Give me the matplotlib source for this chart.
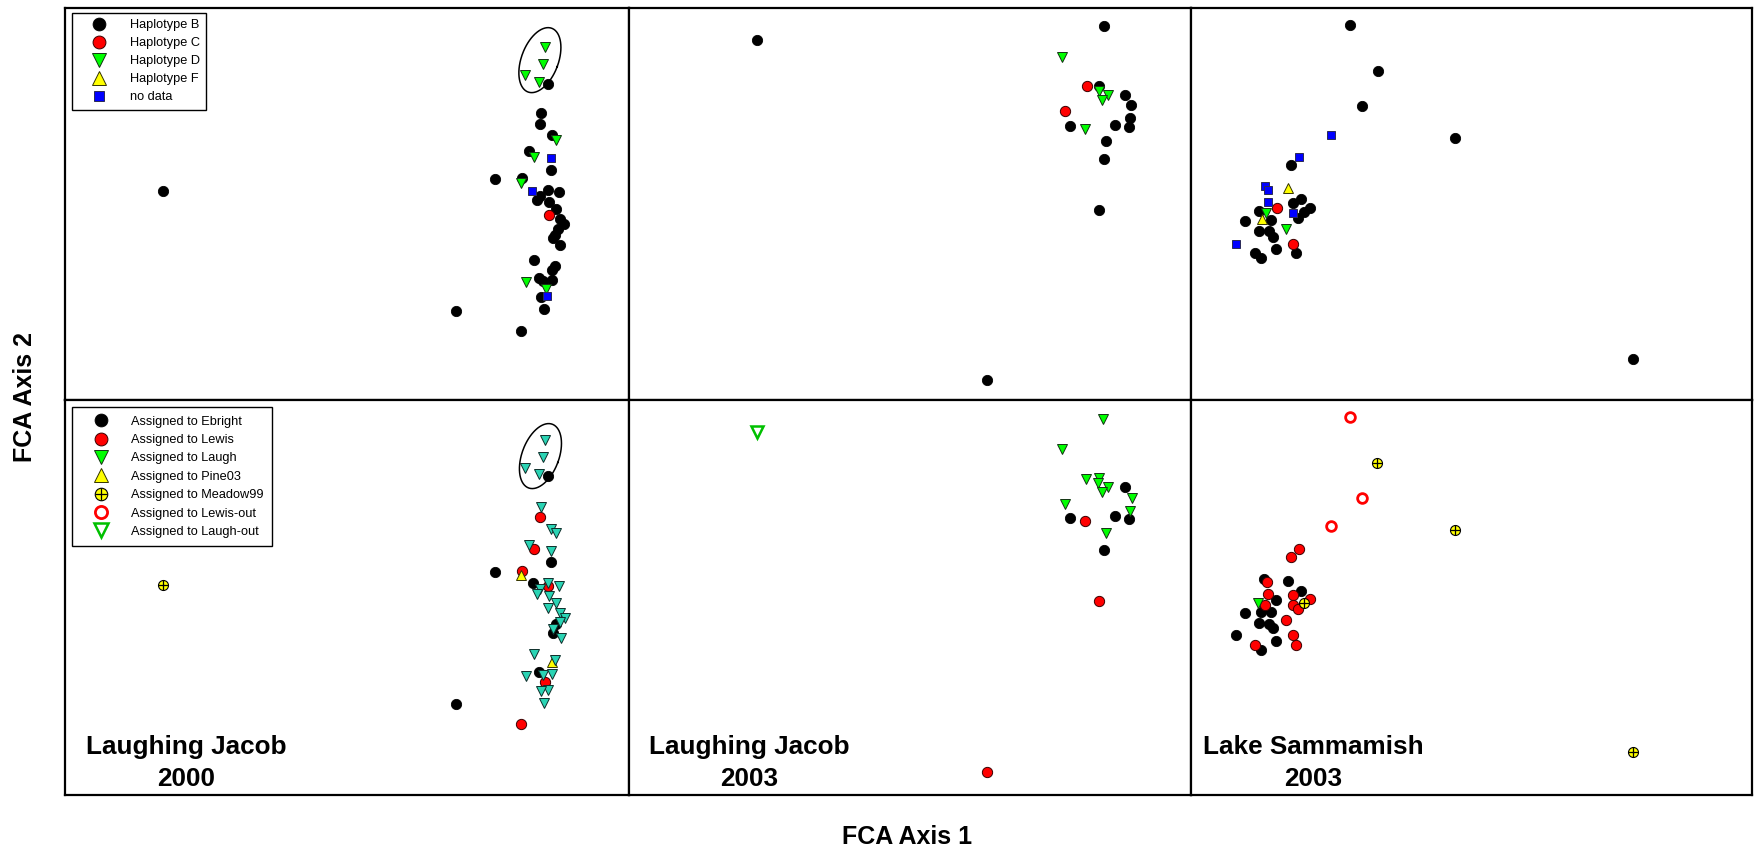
import matplotlib.pyplot as plt
from matplotlib.lines import Line2D
import numpy as np

plt.rcParams['font.family'] = ['Liberation Sans', 'DejaVu Sans']

# FCA scores (arbitrary units, 0-100 per column)

# Laughing Jacob 2000 - haplotypes
lj00_hapB_x = [17.3, 85.7, 84.4, 84.2, 86.3, 82.3, 86.1, 76.3, 81.1, 85.7, 87.6, 84.2, 83.6, 85.9, 87.1, 87.8,
               88.5, 87.4, 86.9, 86.5, 87.8, 83.2, 86.9, 86.4, 84.1, 86.4, 84.8, 84.4, 84.9, 69.3, 80.9]
lj00_hapB_y = [53.2, 80.7, 73.1, 70.4, 67.6, 63.5, 58.7, 56.3, 56.7, 53.5, 53.0, 52.0, 51.1, 50.5, 48.8, 46.3,
               44.9, 43.5, 42.2, 41.2, 39.6, 35.8, 34.1, 33.2, 31.1, 30.6, 30.3, 26.2, 23.2, 22.7, 17.6]
lj00_hapC_x = [85.9]
lj00_hapC_y = [47.2]
lj00_hapD_x = [85.1, 84.7, 81.5, 84.0, 87.1, 83.2, 80.8, 81.8, 85.2]
lj00_hapD_y = [90.1, 85.7, 83.0, 81.2, 66.4, 62.1, 55.4, 30.0, 28.4]
lj00_nodata_x = [86.1, 82.8, 85.5]
lj00_nodata_y = [61.8, 53.4, 26.6]

# Laughing Jacob 2000 - assignments
lj00_ebright_x = [85.7, 86.1, 76.3, 82.9, 87.1, 86.5, 84.1, 69.3]
lj00_ebright_y = [80.7, 58.9, 56.4, 53.6, 43.4, 40.9, 31.1, 23.1]
lj00_lewis_x = [84.2, 83.2, 81.1, 85.6, 85.1, 80.9]
lj00_lewis_y = [70.4, 62.3, 56.6, 53.0, 28.6, 17.9]
lj00_laugh_x = [85.1, 84.7, 81.5, 84.0, 84.4, 86.2, 87.1, 82.2, 86.1, 85.7, 87.6, 84.2, 83.6, 85.9, 87.1,
                85.7, 87.8, 88.6, 87.8, 86.5, 88.0, 83.2, 86.9, 81.7, 84.8, 86.4, 85.6, 84.4, 84.9]
lj00_laugh_y = [90.0, 85.5, 82.9, 81.2, 73.0, 67.4, 66.4, 63.4, 61.7, 53.6, 53.0, 52.1, 51.0, 50.4, 48.7,
                47.3, 46.2, 44.9, 43.8, 41.9, 39.7, 35.8, 34.3, 30.1, 30.3, 30.7, 26.7, 26.3, 23.3]
lj00_pine_x = [80.8, 86.4]
lj00_pine_y = [55.8, 33.7]
lj00_meadow_x = [17.3]
lj00_meadow_y = [53.2]

# Laughing Jacob 2003 - haplotypes
lj03_hapB_x = [22.7, 84.5, 83.7, 88.2, 89.4, 89.2, 88.9, 86.5, 78.5, 84.8, 84.6, 83.7, 63.7]
lj03_hapB_y = [91.9, 95.3, 80.1, 77.7, 75.2, 71.9, 69.7, 70.2, 69.9, 66.1, 61.6, 48.5, 5.1]
lj03_hapC_x = [81.5, 77.6]
lj03_hapC_y = [80.1, 73.7]
lj03_hapD_x = [77.0, 83.6, 85.3, 84.1, 81.2]
lj03_hapD_y = [87.4, 78.9, 77.8, 76.6, 69.1]

# Laughing Jacob 2003 - assignments
lj03_ebright_x = [88.2, 78.5, 86.5, 88.9, 84.6]
lj03_ebright_y = [78.1, 70.2, 70.6, 69.9, 61.9]
lj03_lewis_x = [81.2, 83.7, 63.7]
lj03_lewis_y = [69.4, 49.0, 5.8]
lj03_laugh_x = [84.4, 77.0, 81.4, 83.7, 83.5, 85.3, 84.1, 89.5, 77.6, 89.1, 84.8]
lj03_laugh_y = [95.2, 87.5, 80.1, 80.3, 79.1, 78.1, 76.7, 75.3, 73.7, 72.0, 66.3]
lj03_laughout_x = [22.7]
lj03_laughout_y = [91.8]

# Lake Sammamish 2003 - haplotypes
ls03_hapB_x = [28.4, 33.3, 30.5, 47.1, 17.8, 78.7, 18.1, 19.6, 21.2, 20.1, 19.0, 12.1, 9.6, 14.3, 12.2,
               13.9, 14.6, 15.2, 11.4, 12.5, 18.8]
ls03_hapB_y = [95.7, 83.9, 75.0, 66.8, 60.0, 10.4, 50.3, 51.4, 49.1, 48.0, 46.5, 48.2, 45.6, 46.0, 43.2,
               43.1, 41.7, 38.6, 37.5, 36.2, 37.5]
ls03_hapC_x = [15.3, 18.1]
ls03_hapC_y = [48.9, 39.9]
ls03_hapD_x = [13.3, 16.9]
ls03_hapD_y = [47.6, 43.6]
ls03_hapF_x = [17.3, 12.6]
ls03_hapF_y = [54.0, 46.2]
ls03_nodata_x = [25.0, 19.3, 13.2, 13.7, 13.7, 18.2, 8.1]
ls03_nodata_y = [67.7, 62.1, 54.5, 53.5, 50.5, 47.7, 39.9]

# Lake Sammamish 2003 - assignments
ls03_ebright_x = [13.1, 17.3, 19.6, 15.2, 9.6, 12.5, 14.3, 12.1, 13.9, 14.6, 8.1, 15.1, 12.5]
ls03_ebright_y = [54.8, 54.2, 51.7, 49.3, 46.0, 46.4, 46.4, 43.6, 43.4, 42.2, 40.4, 39.0, 36.7]
ls03_lewis_x = [19.3, 17.8, 13.6, 13.7, 18.1, 21.2, 18.1, 19.0, 13.2, 16.9, 18.1, 18.7, 11.4]
ls03_lewis_y = [62.3, 60.3, 53.8, 50.9, 50.7, 49.5, 48.1, 47.2, 48.1, 44.2, 40.4, 38.0, 38.0]
ls03_laugh_x = [11.9]
ls03_laugh_y = [48.6]
ls03_meadow_x = [33.2, 47.1, 78.7, 20.1]
ls03_meadow_y = [84.1, 67.0, 11.0, 48.6]
ls03_lewisout_x = [28.3, 30.4, 24.9]
ls03_lewisout_y = [95.7, 75.3, 68.0]

# outlier groups circled in the Laughing Jacob 2000 panels (centre in data units)
ring_top = (84.2, 86.7)
ring_bottom = (84.3, 85.8)

hap_labels = ['Haplotype B', 'Haplotype C', 'Haplotype D', 'Haplotype F', 'no data']
assign_labels = ['Assigned to Ebright', 'Assigned to Lewis', 'Assigned to Laugh', 'Assigned to Pine03',
                 'Assigned to Meadow99', 'Assigned to Lewis-out', 'Assigned to Laugh-out']

# marker styles
black = dict(marker='o', ms=7.4, mfc='black', mec='black', mew=0.6)
red = dict(marker='o', ms=7.4, mfc='#ff0000', mec='#3a0000', mew=0.7)
green = dict(marker='v', ms=7.8, mfc='#00ff00', mec='#143214', mew=0.7)
turq = dict(marker='v', ms=7.8, mfc='#2ad4b4', mec='#0e2e2a', mew=0.7)
yellow = dict(marker='^', ms=7.8, mfc='#ffff00', mec='#333300', mew=0.7)
blue = dict(marker='s', ms=6.2, mfc='#0000ff', mec='#2a2a55', mew=0.7)
meadow_c = dict(marker='o', ms=7.2, mfc='#ffff00', mec='black', mew=0.8)
meadow_p = dict(marker='+', ms=7.2, mfc='none', mec='black', mew=0.9)
lewis_out = dict(marker='o', ms=7.0, mfc='white', mec='#ff0000', mew=2.0)
laugh_out = dict(marker='v', ms=8.0, mfc='white', mec='#00c000', mew=1.8)


def pts(ax, x, y, style):
    ax.plot(x, y, ls='none', **style)


def meadow(ax, x, y):
    pts(ax, x, y, meadow_c)
    pts(ax, x, y, meadow_p)


def ring(ax, centre):
    # tilted ellipse, sized in pixels so it keeps its shape
    t = np.linspace(0, 2 * np.pi, 200)
    a, b, tilt = 34.0, 18.5, np.radians(20.5)
    dx = b * np.cos(t) * np.cos(tilt) + a * np.sin(t) * np.sin(tilt)
    dy = -b * np.cos(t) * np.sin(tilt) + a * np.sin(t) * np.cos(tilt)
    w, h = ax.bbox.width, ax.bbox.height
    cx, cy = ax.transLimits.transform(centre)
    ax.plot(cx + dx / w, cy + dy / h, color='black', lw=1.1, transform=ax.transAxes)


def handle(style):
    return Line2D([], [], ls='none', **style)


fig = plt.figure(figsize=(17.54, 8.52), dpi=100)
lefts = [65, 629, 1191]
widths = [564, 562, 561]
rows = [(8, 392), (400, 395)]
axes = []
for top, hgt in rows:
    row = []
    for l, wd in zip(lefts, widths):
        ax = fig.add_axes([l / 1754, 1 - (top + hgt) / 852, wd / 1754, hgt / 852])
        ax.set_xlim(0, 100)
        ax.set_ylim(0, 100)
        ax.set_xticks([])
        ax.set_yticks([])
        for s in ax.spines.values():
            s.set_linewidth(1.6)
            s.set_color('black')
        row.append(ax)
    axes.append(row)

leg_kw = dict(loc='upper left', borderaxespad=0, fontsize=9.2, fancybox=False, edgecolor='black',
              framealpha=1, borderpad=0.5, handlelength=3.2, handletextpad=0.8, markerscale=1.25)

# top row: haplotypes
ax = axes[0][0]
pts(ax, lj00_hapB_x, lj00_hapB_y, black)
pts(ax, lj00_hapC_x, lj00_hapC_y, red)
pts(ax, lj00_hapD_x, lj00_hapD_y, green)
pts(ax, lj00_nodata_x, lj00_nodata_y, blue)
ring(ax, ring_top)
leg = ax.legend([handle(black), handle(red), handle(green), handle(yellow), handle(blue)], hap_labels,
                bbox_to_anchor=(7 / 564, 1 - 4.7 / 392), labelspacing=0.47, **leg_kw)
leg.get_frame().set_linewidth(1.0)

ax = axes[0][1]
pts(ax, lj03_hapB_x, lj03_hapB_y, black)
pts(ax, lj03_hapC_x, lj03_hapC_y, red)
pts(ax, lj03_hapD_x, lj03_hapD_y, green)

ax = axes[0][2]
pts(ax, ls03_hapB_x, ls03_hapB_y, black)
pts(ax, ls03_hapC_x, ls03_hapC_y, red)
pts(ax, ls03_nodata_x, ls03_nodata_y, blue)
pts(ax, ls03_hapF_x, ls03_hapF_y, yellow)
pts(ax, ls03_hapD_x, ls03_hapD_y, green)

# bottom row: assignments
ax = axes[1][0]
pts(ax, lj00_ebright_x, lj00_ebright_y, black)
pts(ax, lj00_lewis_x, lj00_lewis_y, red)
pts(ax, lj00_pine_x, lj00_pine_y, yellow)
pts(ax, lj00_laugh_x, lj00_laugh_y, turq)
meadow(ax, lj00_meadow_x, lj00_meadow_y)
ring(ax, ring_bottom)
meadow_h = (handle(meadow_c), handle(meadow_p))
leg = ax.legend([handle(black), handle(red), handle(green), handle(yellow), meadow_h,
                 handle(lewis_out), handle(laugh_out)], assign_labels,
                bbox_to_anchor=(7 / 564, 1 - 7.3 / 395), labelspacing=0.5, borderpad=0.65,
                **{k: v for k, v in leg_kw.items() if k != 'borderpad'})
leg.get_frame().set_linewidth(1.0)

ax = axes[1][1]
pts(ax, lj03_ebright_x, lj03_ebright_y, black)
pts(ax, lj03_lewis_x, lj03_lewis_y, red)
pts(ax, lj03_laugh_x, lj03_laugh_y, green)
pts(ax, lj03_laughout_x, lj03_laughout_y, laugh_out)

ax = axes[1][2]
pts(ax, ls03_ebright_x, ls03_ebright_y, black)
pts(ax, ls03_lewis_x, ls03_lewis_y, red)
pts(ax, ls03_laugh_x, ls03_laugh_y, green)
meadow(ax, ls03_meadow_x, ls03_meadow_y)
pts(ax, ls03_lewisout_x, ls03_lewisout_y, lewis_out)

# site / year labels
site_names = ['Laughing Jacob\n2000', 'Laughing Jacob\n2003', 'Lake Sammamish\n2003']
site_xpos = [0.2154, 0.2144, 0.218]
for ax, name, xp in zip(axes[1], site_names, site_xpos):
    ax.text(xp, 0.0228, name, transform=ax.transAxes, ha='center', va='baseline',
            multialignment='center', fontsize=18.8, fontweight='bold', linespacing=1.4)

fig.text(25 / 1754, 1 - 397 / 852, 'FCA Axis 2', rotation=90, ha='center', va='center',
         fontsize=18, fontweight='bold')
fig.text(907 / 1754, 1 - 837 / 852, 'FCA Axis 1', ha='center', va='center',
         fontsize=18, fontweight='bold')

fig.savefig('out.png', dpi=100)
